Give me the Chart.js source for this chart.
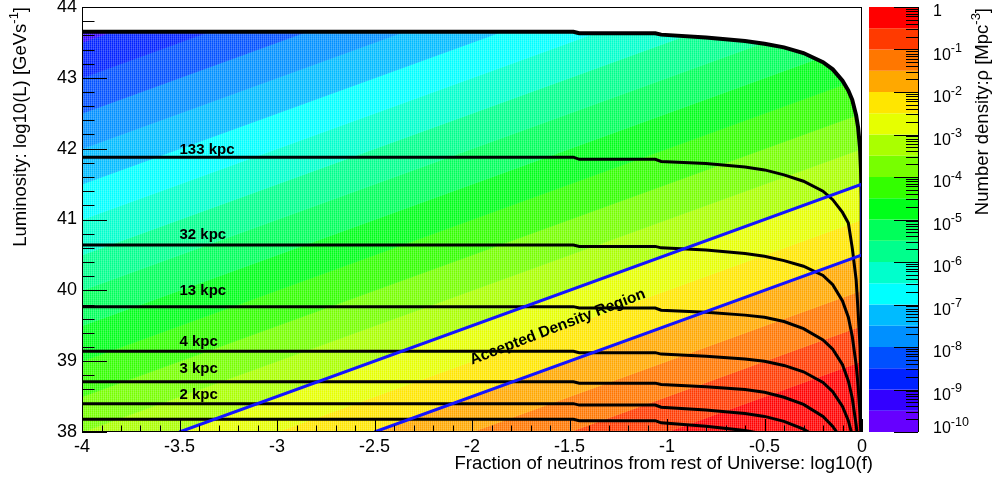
<!DOCTYPE html>
<html>
<head>
<meta charset="utf-8">
<script src="https://cdn.jsdelivr.net/npm/chart.js@4.4.1/dist/chart.umd.min.js"></script>
<style>
  html, body { margin: 0; padding: 0; background: #fff; }
  #wrap { position: relative; width: 995px; height: 482px; }
</style>
</head>
<body>
<div id="wrap"><canvas id="chart" width="995" height="482"></canvas></div>
<script>
// axes
const xTicks = [-4, -3.5, -3, -2.5, -2, -1.5, -1, -0.5, 0];
const yTicks = [38, 39, 40, 41, 42, 43, 44];
const cbDecades = [-10, -9, -8, -7, -6, -5, -4, -3, -2, -1, 0];

// colour levels of the number density (log10 rho), two per decade
const densityLevels = [-10, -9.5, -9, -8.5, -8, -7.5, -7, -6.5, -6, -5.5, -5, -4.5, -4, -3.5, -3, -2.5, -2, -1.5, -1, -0.5, 0];
const bandColors = ['#6600ff', '#3300ff', '#0022ff', '#0050ff', '#0090ff', '#00bbff', '#00ffff', '#00ffcc',
                    '#00ff8c', '#00ff5a', '#00ff1a', '#33ff00', '#77ff00', '#aaff00', '#e6ff00', '#ffe600',
                    '#ffa800', '#ff7700', '#ff3a00', '#ff0000'];
// where each level boundary meets log10(f) = -4 and log10(f) = 0 (log10 L)
const levelAtLeft  = [44.5, 44, 43.5, 43, 42.5, 42, 41.5, 41, 40.5, 40, 39.5, 39, 38.5, 38, 37.5, 37, 36.5, 36, 35.5, 35, 34.5];
const levelAtRight = [48.5, 48, 47.5, 47, 46.5, 46, 45.5, 45, 44.5, 44, 43.5, 43, 42.5, 42, 41.5, 41, 40.5, 40, 39.5, 39, 38.5];

// distance contours, all sampled on the same log10(f) points
const contourX = [-4, -1.48, -1.45, -1.06, -1.03, -0.8, -0.6, -0.5, -0.4, -0.3, -0.2, -0.15, -0.1, -0.07, -0.05, -0.03, -0.02, -0.01, -0.005, -0.002, 0];
const edgeY  = [43.65, 43.65, 43.63, 43.63, 43.61, 43.57, 43.52, 43.48, 43.43, 43.35, 43.22, 43.12, 42.96, 42.82, 42.69, 42.47, 42.30, 42.01, 41.7, 41.3, 38];
const kpc133 = [41.88, 41.88, 41.85, 41.85, 41.82, 41.79, 41.74, 41.70, 41.63, 41.54, 41.40, 41.28, 41.10, 40.95, 40.60, 40.15, 39.70, 39.20, 38.70, 38.20, 38];
const kpc32  = [40.64, 40.64, 40.62, 40.62, 40.60, 40.57, 40.52, 40.48, 40.42, 40.34, 40.21, 40.08, 39.85, 39.62, 39.35, 38.95, 38.65, 38.25, 37.9, 37.6, 37.5];
const kpc13  = [39.77, 39.77, 39.75, 39.75, 39.72, 39.69, 39.65, 39.62, 39.56, 39.46, 39.30, 39.17, 38.95, 38.72, 38.48, 38.10, 37.85, 37.5, 37.2, 37, 37];
const kpc4   = [39.14, 39.14, 39.12, 39.12, 39.10, 39.07, 39.03, 39.00, 38.94, 38.85, 38.70, 38.57, 38.36, 38.16, 37.95, 37.6, 37.4, 37.1, 37, 37, 37];
const kpc3   = [38.71, 38.71, 38.69, 38.69, 38.67, 38.64, 38.60, 38.56, 38.49, 38.39, 38.22, 38.08, 37.88, 37.7, 37.5, 37.3, 37.1, 37, 37, 37, 37];
const kpc2   = [38.40, 38.40, 38.38, 38.38, 38.35, 38.31, 38.26, 38.22, 38.15, 38.04, 37.88, 37.75, 37.6, 37.4, 37.3, 37.1, 37, 37, 37, 37, 37];
const kpc1   = [38.18, 38.18, 38.16, 38.16, 38.13, 38.08, 38.02, 37.97, 37.9, 37.8, 37.65, 37.5, 37.3, 37.1, 37, 37, 37, 37, 37, 37, 37];

const labelText = ['133 kpc', '32 kpc', '13 kpc', '4 kpc', '3 kpc', '2 kpc'];
const labelY = [41.93, 40.72, 39.93, 39.22, 38.84, 38.47];
const labelX = -3.5;

// accepted density region outline
const acceptX = [-3.5, 0, 0, -2.5];
const acceptY = [38, 41.5, 40.5, 38];

const FONT = '"Liberation Sans", Arial, Helvetica, sans-serif';
const pts = (xs, ys) => xs.map((v, i) => ({ x: v, y: ys[i] }));

const datasets = [];
// colour bands: each level boundary fills down to the previous one
densityLevels.forEach((lv, k) => {
  datasets.push({
    data: [{ x: -4, y: levelAtLeft[k] }, { x: 0, y: levelAtRight[k] }],
    fill: k === 0 ? false : '-1',
    backgroundColor: k === 0 ? 'rgba(0,0,0,0)' : bandColors[k - 1],
    borderColor: k === 0 ? 'rgba(0,0,0,0)' : bandColors[k - 1],
    borderWidth: 1, order: 100
  });
});
// above the top level -> top colour
datasets.push({
  data: [{ x: -4, y: levelAtLeft[20] }, { x: 0, y: levelAtRight[20] }],
  fill: 'start', backgroundColor: bandColors[19], borderColor: bandColors[19],
  borderWidth: 1, order: 100
});
// edge of the allowed region, white above it
datasets.push({
  data: pts(contourX, edgeY), fill: 'end', backgroundColor: '#ffffff',
  borderColor: '#000', borderWidth: 4, order: 50
});
[kpc133, kpc32, kpc13, kpc4, kpc3, kpc2, kpc1].forEach(ys => {
  datasets.push({ data: pts(contourX, ys), fill: false, borderColor: '#000', borderWidth: 3, order: 10 });
});
datasets.push({ data: pts(acceptX, acceptY), fill: false, borderColor: '#1414ff', borderWidth: 3, order: 5 });

function drawRuns(ctx, runs, size, x0, y0, supSize) {
  let x = x0;
  runs.forEach(([t, sup]) => {
    ctx.font = (sup ? supSize : size) + 'px ' + FONT;
    ctx.fillText(t, x, sup ? y0 - size * 0.45 : y0);
    x += ctx.measureText(t).width;
  });
  return x - x0;
}
function runsWidth(ctx, runs, size, supSize) {
  let w = 0;
  runs.forEach(([t, sup]) => {
    ctx.font = (sup ? supSize : size) + 'px ' + FONT;
    w += ctx.measureText(t).width;
  });
  return w;
}

const rootLook = {
  id: 'rootLook',
  // fine cell texture of the 2D histogram, laid over the colour bands
  afterDatasetDraw(chart, args) {
    if (args.index !== 0) return;
    const { ctx, chartArea: a } = chart;
    ctx.save();
    ctx.beginPath();
    ctx.rect(a.left, a.top, a.right - a.left, a.bottom - a.top);
    ctx.clip();
    ctx.fillStyle = 'rgba(255,255,255,0.22)';
    for (let px = a.left + 1; px < a.right; px += 2) ctx.fillRect(px, a.top, 1, a.bottom - a.top);
    ctx.fillStyle = 'rgba(255,255,255,0.10)';
    for (let py = a.top + 1; py < a.bottom; py += 2) ctx.fillRect(a.left, py, a.right - a.left, 1);
    ctx.restore();
  },
  afterDatasetsDraw(chart) {
    const { ctx, chartArea: a, scales } = chart;
    const x = scales.x, y = scales.y, cb = scales.cb;
    ctx.save();
    ctx.fillStyle = '#000';
    ctx.strokeStyle = '#000';
    ctx.lineWidth = 1;

    // contour labels
    ctx.font = 'bold 15px ' + FONT;
    ctx.textAlign = 'left';
    ctx.textBaseline = 'alphabetic';
    labelText.forEach((t, i) => ctx.fillText(t, x.getPixelForValue(labelX), y.getPixelForValue(labelY[i])));

    // text along the accepted band
    const p0x = x.getPixelForValue(acceptX[3]), p0y = y.getPixelForValue(acceptY[3]);
    const p1x = x.getPixelForValue(acceptX[2]), p1y = y.getPixelForValue(acceptY[2]);
    ctx.save();
    ctx.font = 'bold 15.5px ' + FONT;
    ctx.translate(x.getPixelForValue(-2.0), y.getPixelForValue(38.95));
    ctx.rotate(Math.atan2(p1y - p0y, p1x - p0x) - 0.02);
    ctx.fillText('Accepted Density Region', 0, 0);
    ctx.restore();

    // frame
    ctx.strokeRect(a.left + 0.5, a.top + 0.5, a.right - a.left - 1, a.bottom - a.top - 1);

    // inner ticks
    ctx.beginPath();
    for (let i = 0; i <= 40; i++) {
      const px = Math.round(x.getPixelForValue(-4 + i * 0.1)) + 0.5;
      const len = i % 5 === 0 ? 13 : 6.5;
      ctx.moveTo(px, a.bottom); ctx.lineTo(px, a.bottom - len);
    }
    for (let i = 0; i <= 30; i++) {
      const py = Math.round(y.getPixelForValue(38 + i * 0.2)) + 0.5;
      const len = i % 5 === 0 ? 25 : 12.5;
      ctx.moveTo(a.left, py); ctx.lineTo(a.left + len, py);
    }
    ctx.stroke();

    // colour bar
    const bx0 = 869, bx1 = 918;
    for (let k = 0; k < bandColors.length; k++) {
      const t = cb.getPixelForValue(Math.pow(10, densityLevels[k + 1]));
      const b = cb.getPixelForValue(Math.pow(10, densityLevels[k]));
      ctx.fillStyle = bandColors[k];
      ctx.fillRect(bx0, t, bx1 - bx0, b - t);
    }
    ctx.fillStyle = '#000';
    ctx.beginPath();
    ctx.moveTo(bx1 + 0.5, cb.top); ctx.lineTo(bx1 + 0.5, cb.bottom);
    cbDecades.forEach((d, i) => {
      const py = Math.round(cb.getPixelForValue(Math.pow(10, d))) + 0.5;
      ctx.moveTo(bx1 - 24, py); ctx.lineTo(bx1, py);
      if (i < cbDecades.length - 1) {
        for (let m = 2; m <= 9; m++) {
          const pm = Math.round(cb.getPixelForValue(m * Math.pow(10, d))) + 0.5;
          ctx.moveTo(bx1 - 12, pm); ctx.lineTo(bx1, pm);
        }
      }
    });
    ctx.stroke();

    // colour bar labels
    ctx.textAlign = 'left';
    ctx.textBaseline = 'alphabetic';
    cbDecades.forEach(d => {
      const py = cb.getPixelForValue(Math.pow(10, d));
      let base = py + 10;
      if (base > cb.bottom + 1) base = cb.bottom + 1;
      if (d === 0) {
        drawRuns(ctx, [['1', false]], 16, 933, py + 9, 12.5);
      } else {
        drawRuns(ctx, [['10', false], [String(d), true]], 16, 933, base, 12.5);
      }
    });

    // axis titles
    ctx.font = '18.5px ' + FONT;
    ctx.textAlign = 'right';
    ctx.fillText('Fraction of neutrinos from rest of Universe: log10(f)', 873, 469);

    ctx.textAlign = 'left';
    const yRuns = [['Luminosity: log10(L) [GeVs', false], ['-1', true], [']', false]];
    const yw = runsWidth(ctx, yRuns, 18.5, 13);
    ctx.save();
    ctx.translate(26, 7);
    ctx.rotate(-Math.PI / 2);
    drawRuns(ctx, yRuns, 18.5, -yw, 0, 13);
    ctx.restore();

    const cRuns = [['Number density:\u03c1 [Mpc', false], ['-3', true], [']', false]];
    const cw = runsWidth(ctx, cRuns, 18.5, 13);
    ctx.save();
    ctx.translate(988, 8);
    ctx.rotate(-Math.PI / 2);
    drawRuns(ctx, cRuns, 18.5, -cw, 0, 13);
    ctx.restore();

    ctx.restore();
  }
};

new Chart(document.getElementById('chart'), {
  type: 'line',
  data: { datasets },
  options: {
    responsive: false,
    animation: false,
    events: [],
    layout: { padding: { top: 7, right: 133, left: 0, bottom: 0 } },
    plugins: { legend: { display: false }, tooltip: { enabled: false } },
    elements: { line: { tension: 0 }, point: { radius: 0 } },
    scales: {
      x: {
        type: 'linear', min: -4, max: 0, position: 'bottom',
        afterBuildTicks: s => { s.ticks = xTicks.map(v => ({ value: v })); },
        afterFit: s => { s.height = 50; s.paddingLeft = 0; s.paddingRight = 0; },
        ticks: { callback: v => String(v), color: '#000', font: { family: FONT, size: 18 }, padding: 4, maxRotation: 0, autoSkip: false },
        grid: { display: false, drawTicks: false },
        border: { display: false }
      },
      y: {
        type: 'linear', min: 38, max: 44, position: 'left',
        afterBuildTicks: s => { s.ticks = yTicks.map(v => ({ value: v })); },
        afterFit: s => { s.width = 82; s.paddingTop = 0; s.paddingBottom = 0; },
        ticks: { callback: v => String(v), color: '#000', font: { family: FONT, size: 18 }, padding: 5, autoSkip: false },
        grid: { display: false, drawTicks: false },
        border: { display: false }
      },
      cb: { type: 'logarithmic', display: false, min: 1e-10, max: 1, position: 'right' }
    }
  },
  plugins: [rootLook]
});
</script>
</body>
</html>
